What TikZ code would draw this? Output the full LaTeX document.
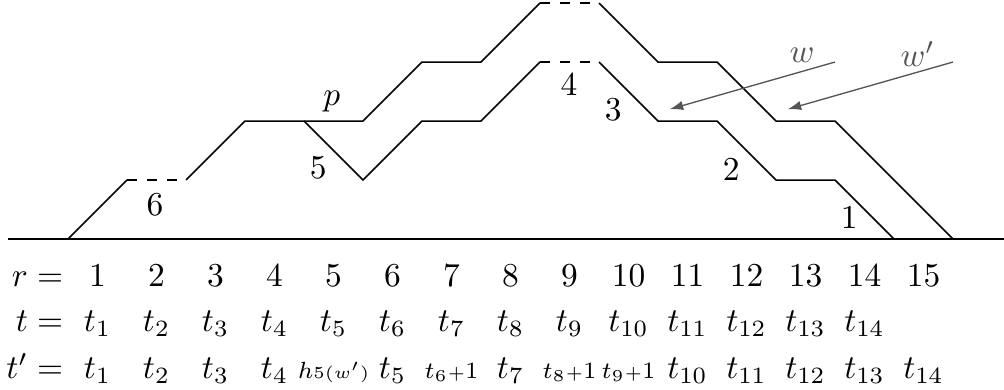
\documentclass[tikz,border=0pt]{standalone}
\usetikzlibrary{arrows.meta}
\definecolor{arrgray}{HTML}{555555}
\newcommand{\tplusone}[1]{\scriptstyle t_{#1}{\scriptscriptstyle+}1}
\begin{document}
\begin{tikzpicture}[x=0.62cm,y=0.62cm,
  pathline/.style={line width=0.45pt},
  gapline/.style={line width=0.45pt,dashed},
  lbl/.style={inner sep=0pt},
  warrow/.style={draw=arrgray,line width=0.4pt,-{Latex[length=4pt,width=2.8pt]}},
  wlabel/.style={inner sep=0pt,text=arrgray},
  cell/.style={anchor=base,inner sep=0pt},
  rowhead/.style={anchor=base east,inner sep=0pt}]
\useasboundingbox (-1.153,-2.559) rectangle (15.864,4.051);
% ground line
\coordinate (gL) at (-1.017,0);
\coordinate (gR) at (15.864,0);
\draw[pathline] (gL) -- (gR);
% lower path (w)
\coordinate (a0) at (0,0);
\coordinate (a1) at (1,1);
\coordinate (a2) at (2,1);
\coordinate (a3) at (3,2);
\coordinate (a4) at (4,2);
\coordinate (a5) at (5,1);
\coordinate (a6) at (6,2);
\coordinate (a7) at (7,2);
\coordinate (a8) at (8,3);
\coordinate (a9) at (9,3);
\coordinate (a10) at (10,2);
\coordinate (a11) at (11,2);
\coordinate (a12) at (12,1);
\coordinate (a13) at (13,1);
\coordinate (a14) at (14,0);
\draw[pathline] (a0) -- (a1);
\draw[gapline] (a1) -- (a2);
\draw[pathline] (a2) -- (a3) -- (a4) -- (a5) -- (a6) -- (a7) -- (a8);
\draw[gapline] (a8) -- (a9);
\draw[pathline] (a9) -- (a10) -- (a11) -- (a12) -- (a13) -- (a14);
% upper path (w')
\coordinate (b5) at (5,2);
\coordinate (b6) at (6,3);
\coordinate (b7) at (7,3);
\coordinate (b8) at (8,4);
\coordinate (b9) at (9,4);
\coordinate (b10) at (10,3);
\coordinate (b11) at (11,3);
\coordinate (b12) at (12,2);
\coordinate (b13) at (13,2);
\coordinate (b15) at (15,0);
\draw[pathline] (a4) -- (b5) -- (b6) -- (b7) -- (b8);
\draw[gapline] (b8) -- (b9);
\draw[pathline] (b9) -- (b10) -- (b11) -- (b12) -- (b13) -- (b15);
% labels on the paths
\node[lbl] (l6) at (1.475,0.576) {$6$};
\node[lbl] (l5) at (4.24,1.20) {$5$};
\node[lbl] (lp) at (4.47,2.33) {$p$};
\node[lbl] (l4) at (8.49,2.61) {$4$};
\node[lbl] (l3) at (9.24,2.19) {$3$};
\node[lbl] (l2) at (11.24,1.17) {$2$};
\node[lbl] (l1) at (13.24,0.36) {$1$};
% arrows w, w'
\coordinate (ws) at (13,3);
\coordinate (wt) at (10.2,2.2);
\coordinate (vs) at (15,3);
\coordinate (vt) at (12.2,2.2);
\draw[warrow] (ws) -- (wt);
\draw[warrow] (vs) -- (vt);
\node[wlabel] (wl) at (12.44,3.12) {$w$};
\node[wlabel] (vl) at (14.40,3.13) {$w'$};
% table
\node[rowhead] (hr) at (-0.07,-0.81) {$r=$};
\node[rowhead] (ht) at (-0.07,-1.575) {$t=$};
\node[rowhead] (htp) at (-0.07,-2.36) {$t'=$};
\foreach \i in {1,...,15} {
  \node[cell] (r\i) at (\i-0.5,-0.81) {$\i$};
}
\foreach \i in {1,...,14} {
  \node[cell] (t\i) at (\i-0.5,-1.575) {$t_{\i}$};
}
\node[cell] (u1) at (0.5,-2.36) {$t_1$};
\node[cell] (u2) at (1.5,-2.36) {$t_2$};
\node[cell] (u3) at (2.5,-2.36) {$t_3$};
\node[cell] (u4) at (3.5,-2.36) {$t_4$};
\node[cell] (u5) at (4.5,-2.36) {$\scriptstyle h{\scriptscriptstyle 5(w')}$};
\node[cell] (u6) at (5.5,-2.36) {$t_5$};
\node[cell] (u7) at (6.5,-2.36) {$\tplusone{6}$};
\node[cell] (u8) at (7.5,-2.36) {$t_7$};
\node[cell] (u9) at (8.5,-2.36) {$\tplusone{8}$};
\node[cell] (u10) at (9.5,-2.36) {$\tplusone{9}$};
\node[cell] (u11) at (10.5,-2.36) {$t_{10}$};
\node[cell] (u12) at (11.5,-2.36) {$t_{11}$};
\node[cell] (u13) at (12.5,-2.36) {$t_{12}$};
\node[cell] (u14) at (13.5,-2.36) {$t_{13}$};
\node[cell] (u15) at (14.5,-2.36) {$t_{14}$};
\end{tikzpicture}
\end{document}
